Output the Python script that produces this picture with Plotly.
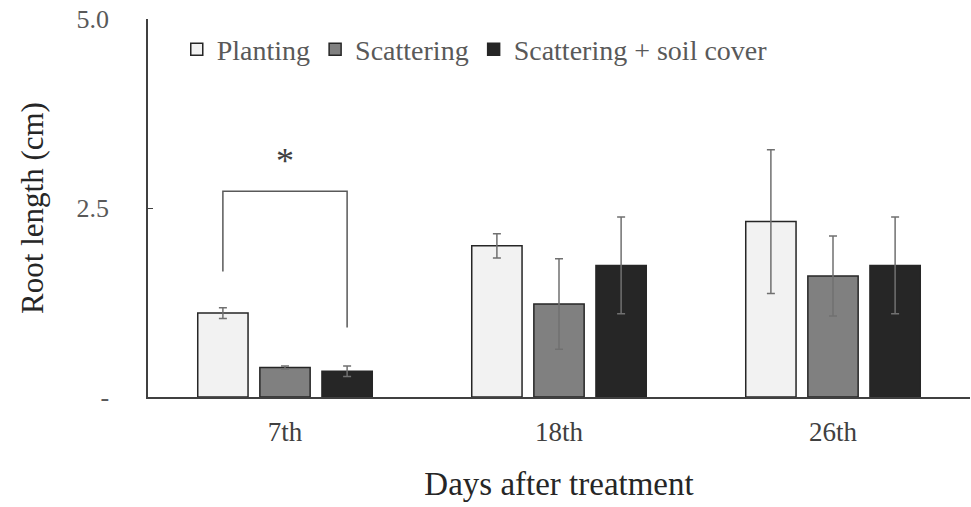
import plotly.graph_objects as go

categories = ["7th", "18th", "26th"]
series_names = ["Planting", "Scattering", "Scattering + soil cover"]
planting = [1.11, 2.00, 2.32]
planting_err = [0.07, 0.16, 0.95]
scattering = [0.39, 1.23, 1.60]
scattering_err = [0.02, 0.60, 0.53]
soil_cover = [0.34, 1.74, 1.74]
soil_cover_err = [0.07, 0.64, 0.64]
y_tickvals = [0, 2.5, 5.0]
y_ticktext = ["-", "2.5", "5.0"]

# significance bracket (7th day: Planting vs Scattering + soil cover)
bracket_y = [1.66, 2.72, 2.72, 0.92]
star_y = 3.12

colors = ["#f2f2f2", "#808080", "#262626"]
values = [planting, scattering, soil_cover]
errors = [planting_err, scattering_err, soil_cover_err]

BARGAP = 0.32
BARGROUPGAP = 0.19
FONT = "Liberation Serif"

xs = list(range(len(categories)))
fig = go.Figure()
for name, vals, errs, col in zip(series_names, values, errors, colors):
    fig.add_trace(go.Bar(
        x=xs, y=vals, name=name,
        marker=dict(color=col, line=dict(color="#262626", width=1.5)),
        error_y=dict(type="data", array=errs, visible=True,
                     color="#707070", thickness=1.5, width=4),
    ))

slot = (1 - BARGAP) / 3
bx = [xs[0] - slot, xs[0] - slot, xs[0] + slot, xs[0] + slot]
fig.add_trace(go.Scatter(x=bx, y=bracket_y, mode="lines",
                         line=dict(color="#595959", width=1.5),
                         showlegend=False, hoverinfo="skip"))
fig.add_annotation(x=xs[0], y=star_y, text="*", showarrow=False,
                   font=dict(family=FONT, size=36, color="#404040"))

fig.update_layout(
    width=971, height=507,
    margin=dict(l=148, r=1, t=19, b=110),
    paper_bgcolor="white", plot_bgcolor="white",
    barmode="group", bargap=BARGAP, bargroupgap=BARGROUPGAP,
    font=dict(family=FONT, color="#404040"),
    legend=dict(orientation="h", x=0.035, y=0.985, xanchor="left", yanchor="top",
                font=dict(family=FONT, size=28, color="#595959"),
                itemwidth=30, traceorder="normal", bgcolor="rgba(0,0,0,0)"),
    xaxis=dict(tickvals=xs, ticktext=categories, range=[-0.5, 2.5],
               showline=True, linecolor="#404040", linewidth=1.5,
               ticks="", showgrid=False, zeroline=False,
               tickfont=dict(family=FONT, size=27, color="#404040"),
               ticklabelstandoff=10,
               title=dict(text="Days after treatment", standoff=26,
                          font=dict(family=FONT, size=33, color="#262626"))),
    yaxis=dict(range=[0, 5.0], tickvals=y_tickvals, ticktext=y_ticktext,
               showline=True, linecolor="#404040", linewidth=1.5,
               ticks="inside", ticklen=5, tickcolor="#404040",
               showgrid=False, zeroline=False,
               tickfont=dict(family=FONT, size=26, color="#595959"),
               ticklabelstandoff=32,
               title=dict(text="Root length (cm)", standoff=24,
                          font=dict(family=FONT, size=31, color="#262626"))),
)

fig.write_html("out.html")
